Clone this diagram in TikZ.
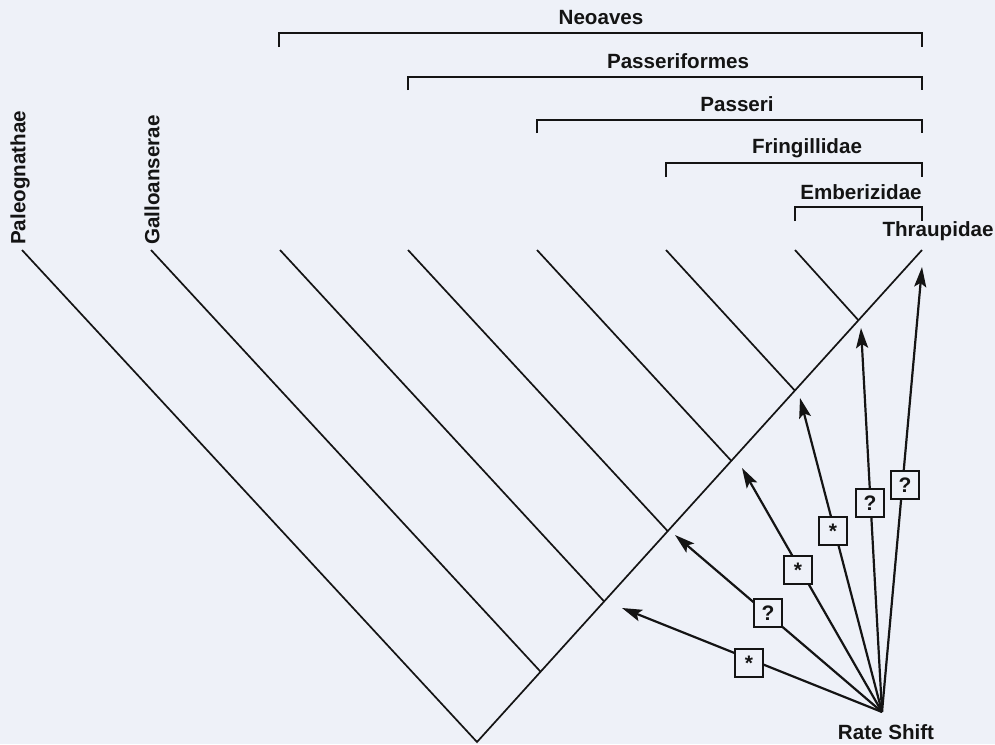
\documentclass[tikz,border=0pt]{standalone}
\usepackage{fontspec}
\setmainfont{Liberation Sans}
\usetikzlibrary{arrows.meta,calc}
\definecolor{bgc}{RGB}{238,241,248}
\definecolor{ink}{RGB}{20,20,20}
\begin{document}
\begin{tikzpicture}[x=1pt,y=-1pt,
  lbl/.style={font=\fontsize{20.6}{22}\selectfont\bfseries, text=ink, inner sep=0pt},
  branch/.style={draw=ink, line width=1.7pt},
  brk/.style={draw=ink, line width=2pt},
  rsarrow/.style={draw=ink, line width=2.2pt, -{Stealth[length=20pt,width=12pt,inset=4pt]}},
  markbox/.style={draw=ink, line width=1.8pt, fill=bgc, minimum size=28pt, inner sep=0pt,
    font=\fontsize{21}{22}\selectfont\bfseries, text=ink}]
\fill[bgc] (0,0) rectangle (995,744);
\useasboundingbox (0,0) rectangle (995,744);
% tree
\coordinate (R) at (477,742);
\coordinate (L0) at (22,250);
\coordinate (L1) at (151,250);
\coordinate (L2) at (280,250);
\coordinate (L3) at (408,250);
\coordinate (L4) at (537,250);
\coordinate (L5) at (666,250);
\coordinate (L6) at (795,250);
\coordinate (T) at (922,250);
\path[branch] (L0) -- (R) -- (T);
\foreach \i in {1,...,6}{
  \coordinate (J\i) at ($(R)!\i/7!(T)$);
  \path[branch] (L\i) -- (J\i);
}
% leaf labels
\node[lbl, rotate=90, anchor=west] (pal) at (20,245) {Paleognathae};
\node[lbl, rotate=90, anchor=west] (gal) at (152,245) {Galloanserae};
\node[lbl] (thr) at (938,231) {Thraupidae};
% brackets
\path[brk] (279,47) -- (279,33) -- (922,33) -- (922,47);
\node[lbl] (neo) at (601,18) {Neoaves};
\path[brk] (408,90) -- (408,77) -- (922,77) -- (922,90);
\node[lbl] (pas) at (678,61) {Passeriformes};
\path[brk] (537,133) -- (537,120) -- (922,120) -- (922,133);
\node[lbl] (psi) at (737,104) {Passeri};
\path[brk] (666,177) -- (666,163) -- (922,163) -- (922,177);
\node[lbl] (fri) at (807,148) {Fringillidae};
\path[brk] (795,221) -- (795,207) -- (922,207) -- (922,221);
\node[lbl] (emb) at (861,192) {Emberizidae};
% rate shifts
\coordinate (rs) at (882,712);
\node[lbl] (rst) at (886,732) {Rate Shift};
\coordinate (a1) at (622,608);
\coordinate (a2) at (675,535);
\coordinate (a3) at (742,468);
\coordinate (a4) at (800,398);
\coordinate (a5) at (861,328);
\coordinate (a6) at (922,267);
\foreach \i in {1,...,6}{ \draw[rsarrow] (rs) -- (a\i); }
\node[markbox] (b1) at (749,663) {*};
\node[markbox] (b2) at (768,613) {?};
\node[markbox] (b3) at (798,570) {*};
\node[markbox] (b4) at (833,531) {*};
\node[markbox] (b5) at (870,503) {?};
\node[markbox] (b6) at (905,485) {?};
\end{tikzpicture}
\end{document}
